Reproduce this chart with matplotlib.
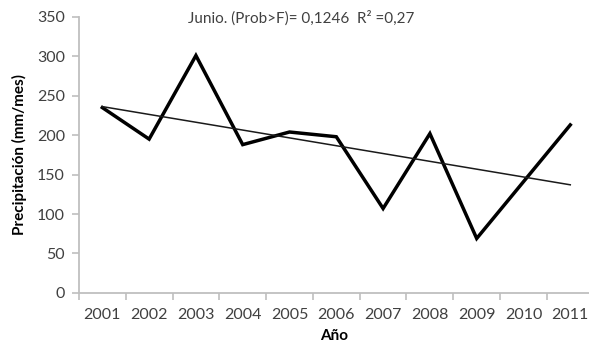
import numpy as np
import matplotlib
matplotlib.use('Agg')
import matplotlib.pyplot as plt

plt.rcParams['font.family'] = ['Lato', 'DejaVu Sans']

# June precipitation per year
years = ['2001', '2002', '2003', '2004', '2005', '2006', '2007', '2008', '2009', '2010', '2011']
precip = [235, 195, 301, 188, 204, 198, 107, 202, 69, 141, 213]
y_ticks = [0, 50, 100, 150, 200, 250, 300, 350]
title_txt = 'Junio. (Prob>F)= 0,1246  R² =0,27'

x = np.arange(len(years))
slope, icpt = np.polyfit(x, precip, 1)

fig = plt.figure(figsize=(5.89, 3.52), dpi=100)
ax = fig.add_axes([0.134, 0.168, 0.866, 0.784])

ax.plot(x, precip, color='black', lw=2.5, solid_joinstyle='miter')
ax.plot(x, slope * x + icpt, color='#1a1a1a', lw=1.1)

ax.set_xlim(-0.5, 10.4)
ax.set_ylim(0, 350)
ax.set_yticks(y_ticks)
ax.set_xticks(x)
ax.set_xticklabels(years)
ax.set_xticks(np.arange(-0.5, 10.0, 1.0), minor=True)
ax.tick_params(axis='x', which='major', length=0, pad=11, labelsize=11.5, colors='#404040')
ax.tick_params(axis='x', which='minor', length=5, color='#bfbfbf', width=1.2)
ax.tick_params(axis='y', length=5, color='#bfbfbf', width=1.2, labelsize=11.5, labelcolor='#404040', pad=5)

for s in ['top', 'right']:
    ax.spines[s].set_visible(False)
for s in ['left', 'bottom']:
    ax.spines[s].set_color('#bfbfbf')
    ax.spines[s].set_linewidth(1.3)

ax.set_ylabel('Precipitación (mm/mes)', fontsize=11, fontweight='bold', color='black', labelpad=7)
ax.set_xlabel('Año', fontsize=11, fontweight='bold', color='black', labelpad=5)

fig.text(0.512, 0.948, title_txt, ha='center', va='center', fontsize=11, color='#404040')

fig.savefig('out.png', dpi=100)
